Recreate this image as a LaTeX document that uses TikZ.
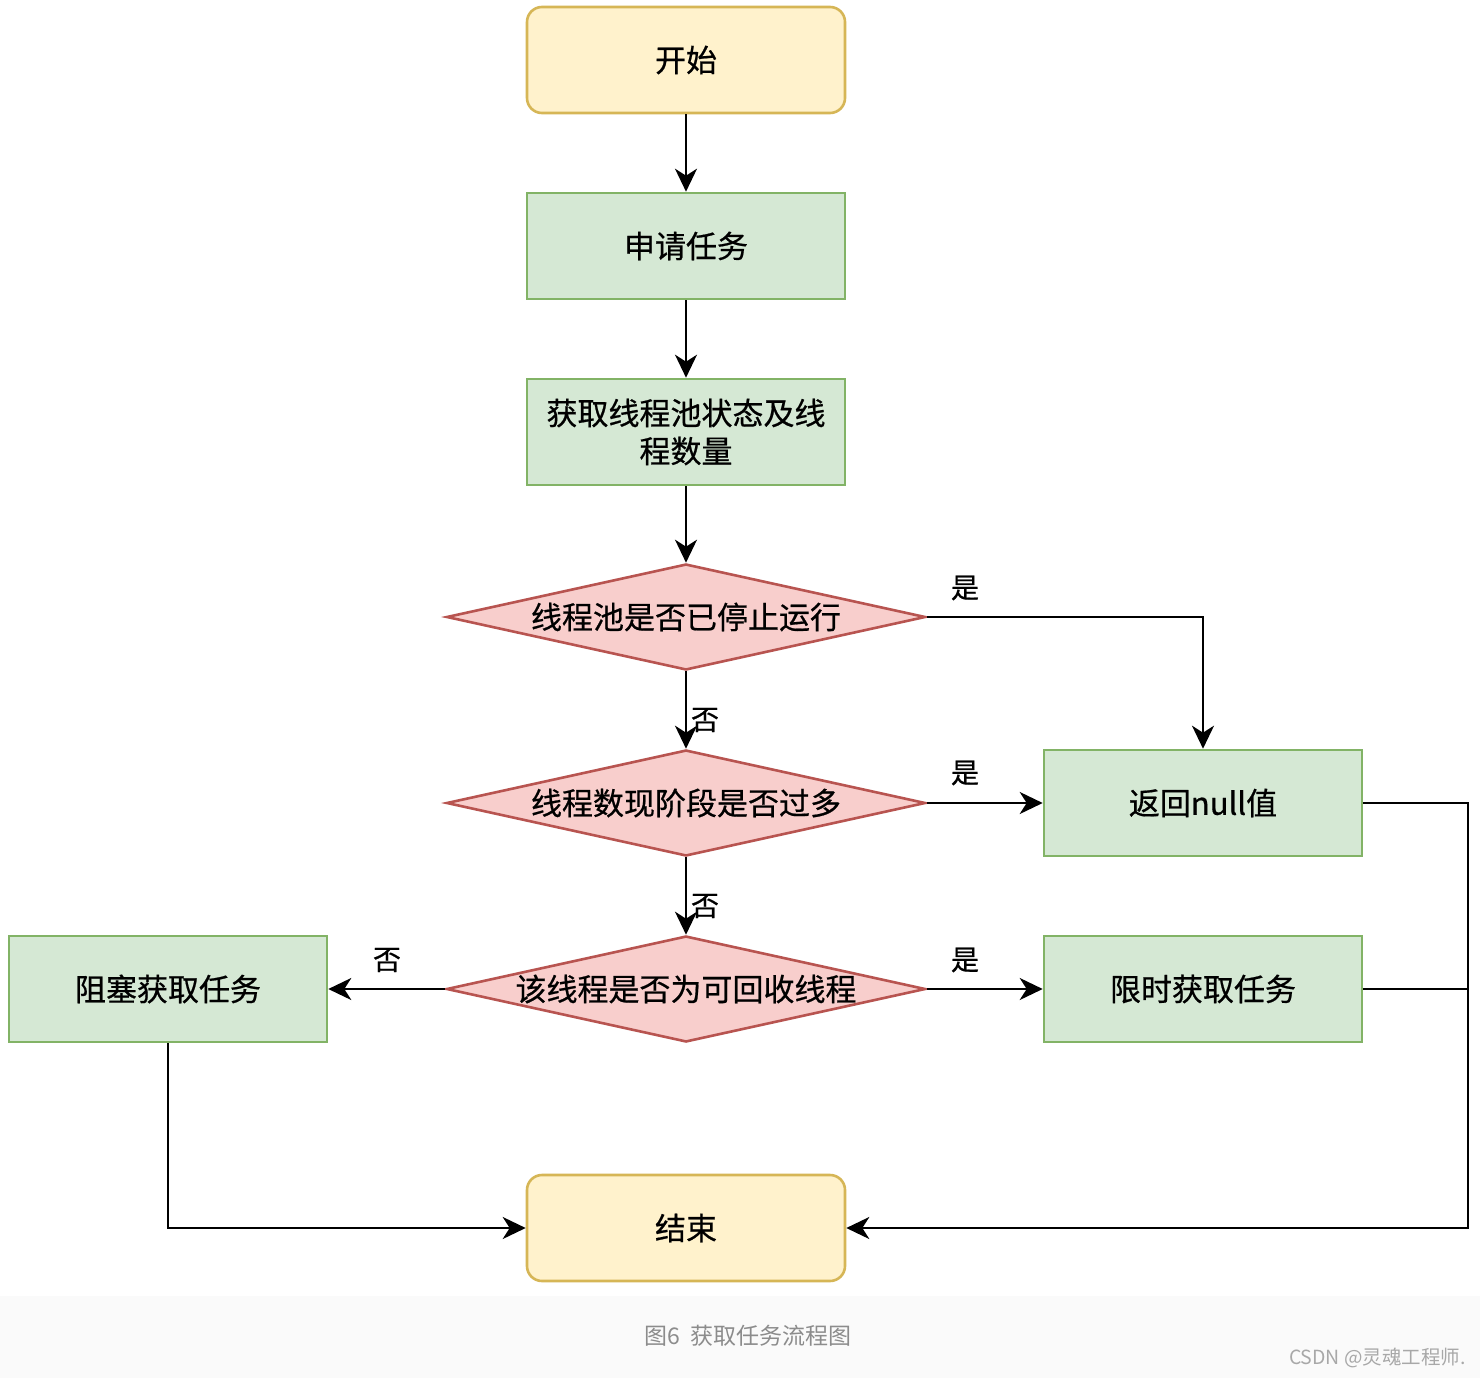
\documentclass[tikz,border=0pt]{standalone}
\usepackage{fontspec}
\setmainfont{Noto Sans CJK SC}
\newfontfamily\dgfont{Noto Sans CJK SC}[FakeBold=0.6]
\usetikzlibrary{shapes.geometric,arrows.meta}
\definecolor{yfill}{HTML}{FFF2CC}
\definecolor{ydraw}{HTML}{D6B656}
\definecolor{gfill}{HTML}{D5E8D4}
\definecolor{gdraw}{HTML}{82B366}
\definecolor{rfill}{HTML}{F8CECC}
\definecolor{rdraw}{HTML}{B85450}
\definecolor{bandbg}{HTML}{FAFAFA}
\definecolor{captxt}{HTML}{8C8C8C}
\definecolor{marktxt}{HTML}{A8A8A8}
\tikzset{
  base/.style={font=\dgfont\fontsize{31}{38}\selectfont, text=black, inner sep=0pt, line width=2.6pt, align=center},
  term/.style={base, rectangle, rounded corners=15pt, fill=yfill, draw=ydraw, minimum width=318pt, minimum height=106pt},
  proc/.style={base, rectangle, fill=gfill, draw=gdraw, minimum width=318pt, minimum height=106pt},
  dec/.style={base, diamond, aspect=4.56, fill=rfill, draw=rdraw, minimum width=479pt, minimum height=106pt},
  conn/.style={line width=2.5pt, draw=black, -{Stealth[length=23pt,width=22pt,inset=7pt]}},
  plain/.style={line width=2.5pt, draw=black},
  lbl/.style={font=\dgfont\fontsize{28}{30}\selectfont, text=black, inner sep=0pt}
}
\begin{document}
\begin{tikzpicture}[x=1pt,y=-1pt]
\useasboundingbox (0,0) rectangle (1480,1378);
\fill[white] (0,0) rectangle (1480,1296);
\fill[bandbg] (0,1296) rectangle (1480,1378);

\node[term] (start) at (686,60) {开始};
\node[proc] (apply) at (686,246) {申请任务};
\node[proc] (state) at (686,432) {获取线程池状态及线\\程数量};
\node[dec] (d1) at (686,617) {\makebox[0pt]{线程池是否已停止运行}};
\node[dec] (d2) at (686,803) {\makebox[0pt]{线程数现阶段是否过多}};
\node[dec] (d3) at (686,989) {\makebox[0pt]{该线程是否为可回收线程}};
\node[proc] (ret) at (1203,803) {返回null值};
\node[proc] (timed) at (1203,989) {限时获取任务};
\node[proc] (block) at (168,989) {阻塞获取任务};
\node[term] (end) at (686,1228) {结束};

\coordinate (rr) at (1468,1228);

\draw[conn] (start) -- (apply);
\draw[conn] (apply) -- (state);
\draw[conn] (state) -- (d1);
\draw[conn] (d1.east) -| (ret.north);
\draw[conn] (d1.south) -- (d2.north);
\draw[conn] (d2.east) -- (ret.west);
\draw[conn] (d2.south) -- (d3.north);
\draw[conn] (d3.east) -- (timed.west);
\draw[conn] (d3.west) -- (block.east);
\draw[conn] (block.south) |- (end.west);
\draw[conn] (ret.east) -| (rr) -- (end.east);
\draw[plain] (timed.east) -- (timed.east -| rr);

\node[lbl] (l1) at (965,588) {是};
\node[lbl] (l2) at (965,773) {是};
\node[lbl] (l3) at (965,960) {是};
\node[lbl] (l4) at (705,720) {否};
\node[lbl] (l5) at (705,906) {否};
\node[lbl] (l6) at (387,960) {否};

\node[font=\fontsize{23}{25}\selectfont, text=captxt, inner sep=0pt] (cap) at (748,1336) {图6\ \ 获取任务流程图};
\node[font=\fontsize{19.5}{21}\selectfont, text=marktxt, inner sep=0pt, anchor=east] (mark) at (1466,1358) {CSDN @灵魂工程师.};
\end{tikzpicture}
\end{document}
